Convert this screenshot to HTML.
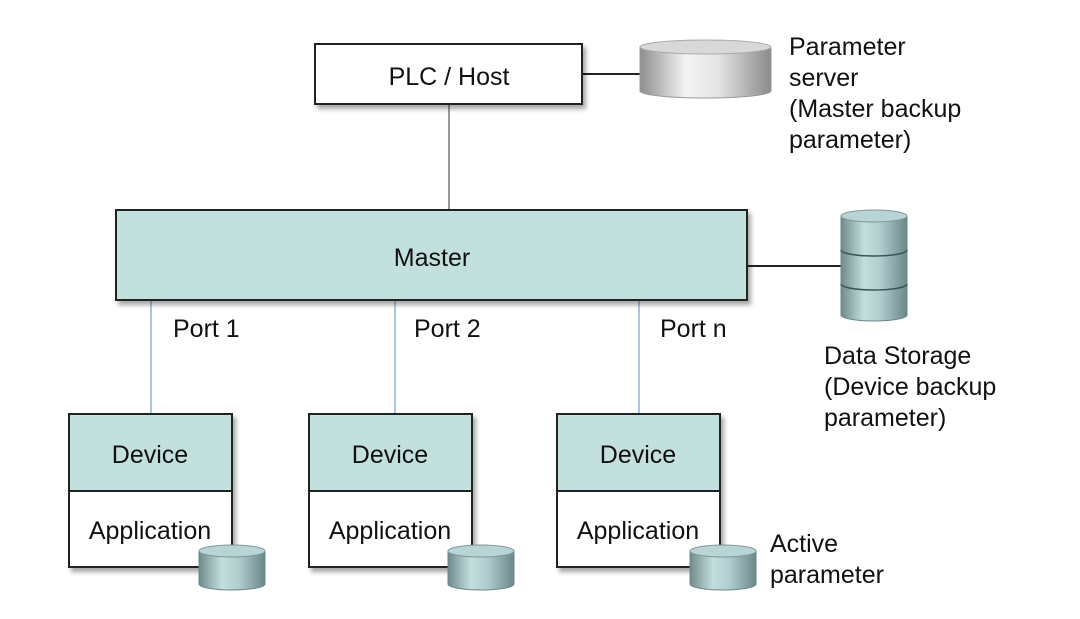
<!DOCTYPE html>
<html><head><meta charset="utf-8"><style>
html,body{margin:0;padding:0;background:#fff;}
svg{display:block;}
text{font-family:"Liberation Sans",Arial,sans-serif;fill:#111;}
</style></head><body>
<svg width="1080" height="619" viewBox="0 0 1080 619" xmlns="http://www.w3.org/2000/svg">
<defs>
<linearGradient id="gs" x1="0" x2="1" y1="0" y2="0">
<stop offset="0" stop-color="#8e8e8e"/><stop offset="0.35" stop-color="#f4f4f4"/><stop offset="0.6" stop-color="#e4e4e4"/><stop offset="1" stop-color="#8a8a8a"/></linearGradient>
<linearGradient id="gt" x1="0" x2="1" y1="0" y2="0">
<stop offset="0" stop-color="#6e8c8c"/><stop offset="0.35" stop-color="#c4dede"/><stop offset="0.6" stop-color="#b0cccc"/><stop offset="1" stop-color="#6a8888"/></linearGradient>
<filter id="sh" x="-5%" y="-5%" width="115%" height="125%"><feDropShadow dx="3" dy="4" stdDeviation="2.5" flood-color="#000" flood-opacity="0.35"/></filter>
</defs>
<line x1="449" y1="104" x2="449" y2="210" stroke="#777" stroke-width="1.5"/>
<line x1="582" y1="74" x2="640" y2="74" stroke="#222" stroke-width="2"/>
<line x1="747" y1="266" x2="841" y2="266" stroke="#222" stroke-width="2"/>
<line x1="151" y1="300" x2="151" y2="414" stroke="#8fb4e0" stroke-width="1.5"/>
<line x1="395" y1="300" x2="395" y2="414" stroke="#8fb4e0" stroke-width="1.5"/>
<line x1="639" y1="300" x2="639" y2="414" stroke="#8fb4e0" stroke-width="1.5"/>
<rect x="315" y="44" width="267" height="60" fill="#fff" stroke="#222" stroke-width="2" filter="url(#sh)"/>
<text x="449" y="85" font-size="25" text-anchor="middle">PLC / Host</text>
<rect x="116" y="210" width="631" height="90" fill="#c1e0de" stroke="#222" stroke-width="2" filter="url(#sh)"/>
<text x="432" y="266" font-size="25" text-anchor="middle">Master</text>
<text x="173" y="337" font-size="25">Port 1</text>
<text x="414" y="337" font-size="25">Port 2</text>
<text x="660" y="337" font-size="25">Port n</text>
<g>
<path d="M640 47 L640 91 A65.5 7 0 0 0 771 91 L771 47 Z" fill="url(#gs)" stroke="#999"/>
<ellipse cx="705.5" cy="47" rx="65.5" ry="7" fill="#d8d8d8" stroke="#aaa"/>
</g>
<text font-size="25"><tspan x="789" y="55">Parameter</tspan><tspan x="789" y="86">server</tspan><tspan x="789" y="117">(Master backup</tspan><tspan x="789" y="148">parameter)</tspan></text>
<g>
<path d="M841 216 L841 315 A33 6 0 0 0 907 315 L907 216 Z" fill="url(#gt)" stroke="#6a8888"/>
<path d="M841 250 A33 6 0 0 0 907 250 M841 284 A33 6 0 0 0 907 284" fill="none" stroke="#3a5555" stroke-width="1.5"/>
<ellipse cx="874" cy="216" rx="33" ry="6" fill="#b8d4d4" stroke="#7a9999"/>
</g>
<text font-size="25"><tspan x="824" y="364">Data Storage</tspan><tspan x="824" y="395">(Device backup</tspan><tspan x="824" y="426">parameter)</tspan></text>
<g id="d1">
<rect x="69" y="414" width="163" height="153" fill="#fff" stroke="#222" stroke-width="2" filter="url(#sh)"/>
<rect x="69" y="414" width="163" height="77" fill="#c1e0de" stroke="#222" stroke-width="2"/>
<text x="150" y="463" font-size="25" text-anchor="middle">Device</text>
<text x="150" y="539" font-size="25" text-anchor="middle">Application</text>
</g>
<use href="#d1" x="240"/>
<use href="#d1" x="488"/>
<g id="c1">
<path d="M199 551 L199 584 A33 6 0 0 0 265 584 L265 551 Z" fill="url(#gt)" stroke="#6a8888"/>
<ellipse cx="232" cy="551" rx="33" ry="6" fill="#b8d4d4" stroke="#7a9999"/>
</g>
<use href="#c1" x="249"/>
<use href="#c1" x="491"/>
<text font-size="25"><tspan x="770" y="552">Active</tspan><tspan x="770" y="583">parameter</tspan></text>
</svg>
</body></html>
